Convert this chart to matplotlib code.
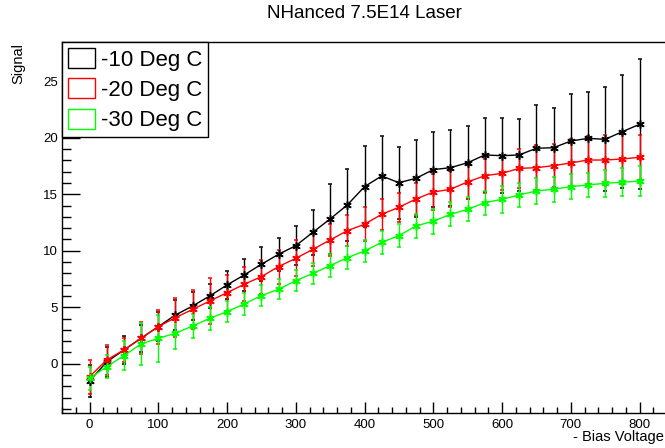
import matplotlib
matplotlib.use("Agg")
import matplotlib.pyplot as plt
from matplotlib.patches import Patch
from matplotlib.ticker import MultipleLocator

plt.rcParams['font.family'] = ['Liberation Sans', 'DejaVu Sans']

# ---- data ----
bias = [0, 25, 50, 75, 100, 125, 150, 175, 200, 225, 250, 275, 300, 325, 350, 375,
        400, 425, 450, 475, 500, 525, 550, 575, 600, 625, 650, 675, 700, 725, 750, 775, 800]

sig_m10 = [-1.53, 0.15, 1.21, 2.25, 3.28, 4.31, 5.11, 6.0, 6.97, 7.86, 8.8, 9.69, 10.45,
           11.64, 12.82, 14.06, 15.68, 16.63, 16.03, 16.42, 17.19, 17.36, 17.8, 18.49,
           18.42, 18.49, 19.08, 19.13, 19.72, 19.96, 19.87, 20.55, 21.2]
err_m10 = [1.4, 1.3, 1.2, 1.2, 1.3, 1.3, 1.25, 1.1, 1.2, 1.4, 1.5, 1.45, 1.75, 2.0, 3.1,
           3.15, 3.6, 3.5, 3.2, 3.4, 3.35, 3.35, 3.25, 3.25, 3.3, 3.2, 3.8, 3.55, 4.15,
           4.1, 4.6, 5.0, 5.75]

sig_m20 = [-1.15, 0.33, 1.21, 2.25, 3.28, 4.08, 4.81, 5.55, 6.29, 7.03, 7.71, 8.6, 9.33,
           10.13, 10.96, 11.78, 12.35, 13.23, 13.85, 14.59, 15.2, 15.45, 16.1, 16.65,
           16.86, 17.3, 17.36, 17.54, 17.78, 18.04, 18.04, 18.13, 18.28]
err_m20 = [1.5, 1.3, 1.1, 1.4, 1.5, 1.7, 1.7, 2.0, 1.6, 1.5, 1.5, 1.5, 1.6, 1.5, 1.4, 1.4,
           1.5, 1.4, 1.3, 1.4, 1.6, 1.6, 1.5, 1.5, 1.5, 1.7, 2.0, 1.9, 2.1, 2.1, 2.2, 2.2, 2.0]

sig_m30 = [-1.3, -0.27, 0.71, 1.74, 2.25, 2.69, 3.34, 4.02, 4.61, 5.29, 6.03, 6.59, 7.35,
           8.0, 8.68, 9.39, 9.98, 10.75, 11.34, 12.2, 12.62, 13.23, 13.67, 14.26, 14.56,
           14.94, 15.3, 15.45, 15.68, 15.83, 15.98, 16.07, 16.18]
err_m30 = [1.0, 1.0, 1.3, 1.9, 2.1, 1.4, 1.1, 1.0, 0.95, 1.0, 0.9, 0.9, 0.95, 0.95, 1.0,
           1.0, 1.0, 1.0, 1.0, 1.1, 1.1, 1.05, 1.05, 1.05, 1.2, 1.1, 1.15, 1.1, 1.1, 1.1,
           1.2, 1.25, 1.35]

labels = ["-10 Deg C", "-20 Deg C", "-30 Deg C"]
colors = ["#000000", "#ff0000", "#00ff00"]

W, H = 665, 448
fig = plt.figure(figsize=(W / 100, H / 100), dpi=100)
ax = fig.add_axes([62 / W, (H - 413) / H, (667 - 62) / W, (413 - 42.5) / H])

series = [(sig_m10, err_m10), (sig_m20, err_m20), (sig_m30, err_m30)]
for (s, e), c in zip(series, colors):
    ax.errorbar(bias, s, yerr=e, color=c, lw=1, elinewidth=1, capsize=1.2,
                capthick=1, marker=(6, 2, 0), markersize=6, markeredgewidth=1.1,
                markeredgecolor=c)

ax.set_xlim(-40, 840)
ax.set_ylim(-4.37, 28.45)

ax.xaxis.set_major_locator(MultipleLocator(100))
ax.xaxis.set_minor_locator(MultipleLocator(20))
ax.yaxis.set_major_locator(MultipleLocator(5))
ax.yaxis.set_minor_locator(MultipleLocator(1))

ax.tick_params(axis='both', which='both', direction='in', top=False, right=False,
               labelsize=9.5, color='black')
ax.tick_params(axis='y', which='major', length=13, width=1, pad=3)
ax.tick_params(axis='y', which='minor', length=6.5, width=1)
ax.tick_params(axis='x', which='major', length=8, width=1, pad=4)
ax.tick_params(axis='x', which='minor', length=4, width=1)

for sp in ax.spines.values():
    sp.set_linewidth(1)

ax.set_xlabel("- Bias Voltage", fontsize=10.5, ha='right')
ax.xaxis.set_label_coords(0.995, -0.045)
ax.set_ylabel("Signal", fontsize=10.5, loc='top', labelpad=13)

fig.text(364 / W, 1 - 14 / H, "NHanced 7.5E14 Laser", ha='center', va='center',
         fontsize=13.5)

handles = [Patch(facecolor='white', edgecolor=c, lw=1) for c in colors]
leg = ax.legend(handles, labels, loc='upper left', bbox_to_anchor=(0, 1),
                borderaxespad=0, fontsize=16, handlelength=1.25, handleheight=1.0,
                handletextpad=0.25, borderpad=0.25, labelspacing=0.35,
                fancybox=False, framealpha=1, edgecolor='black')
leg.get_frame().set_linewidth(1)

fig.savefig("out.png", dpi=100)
